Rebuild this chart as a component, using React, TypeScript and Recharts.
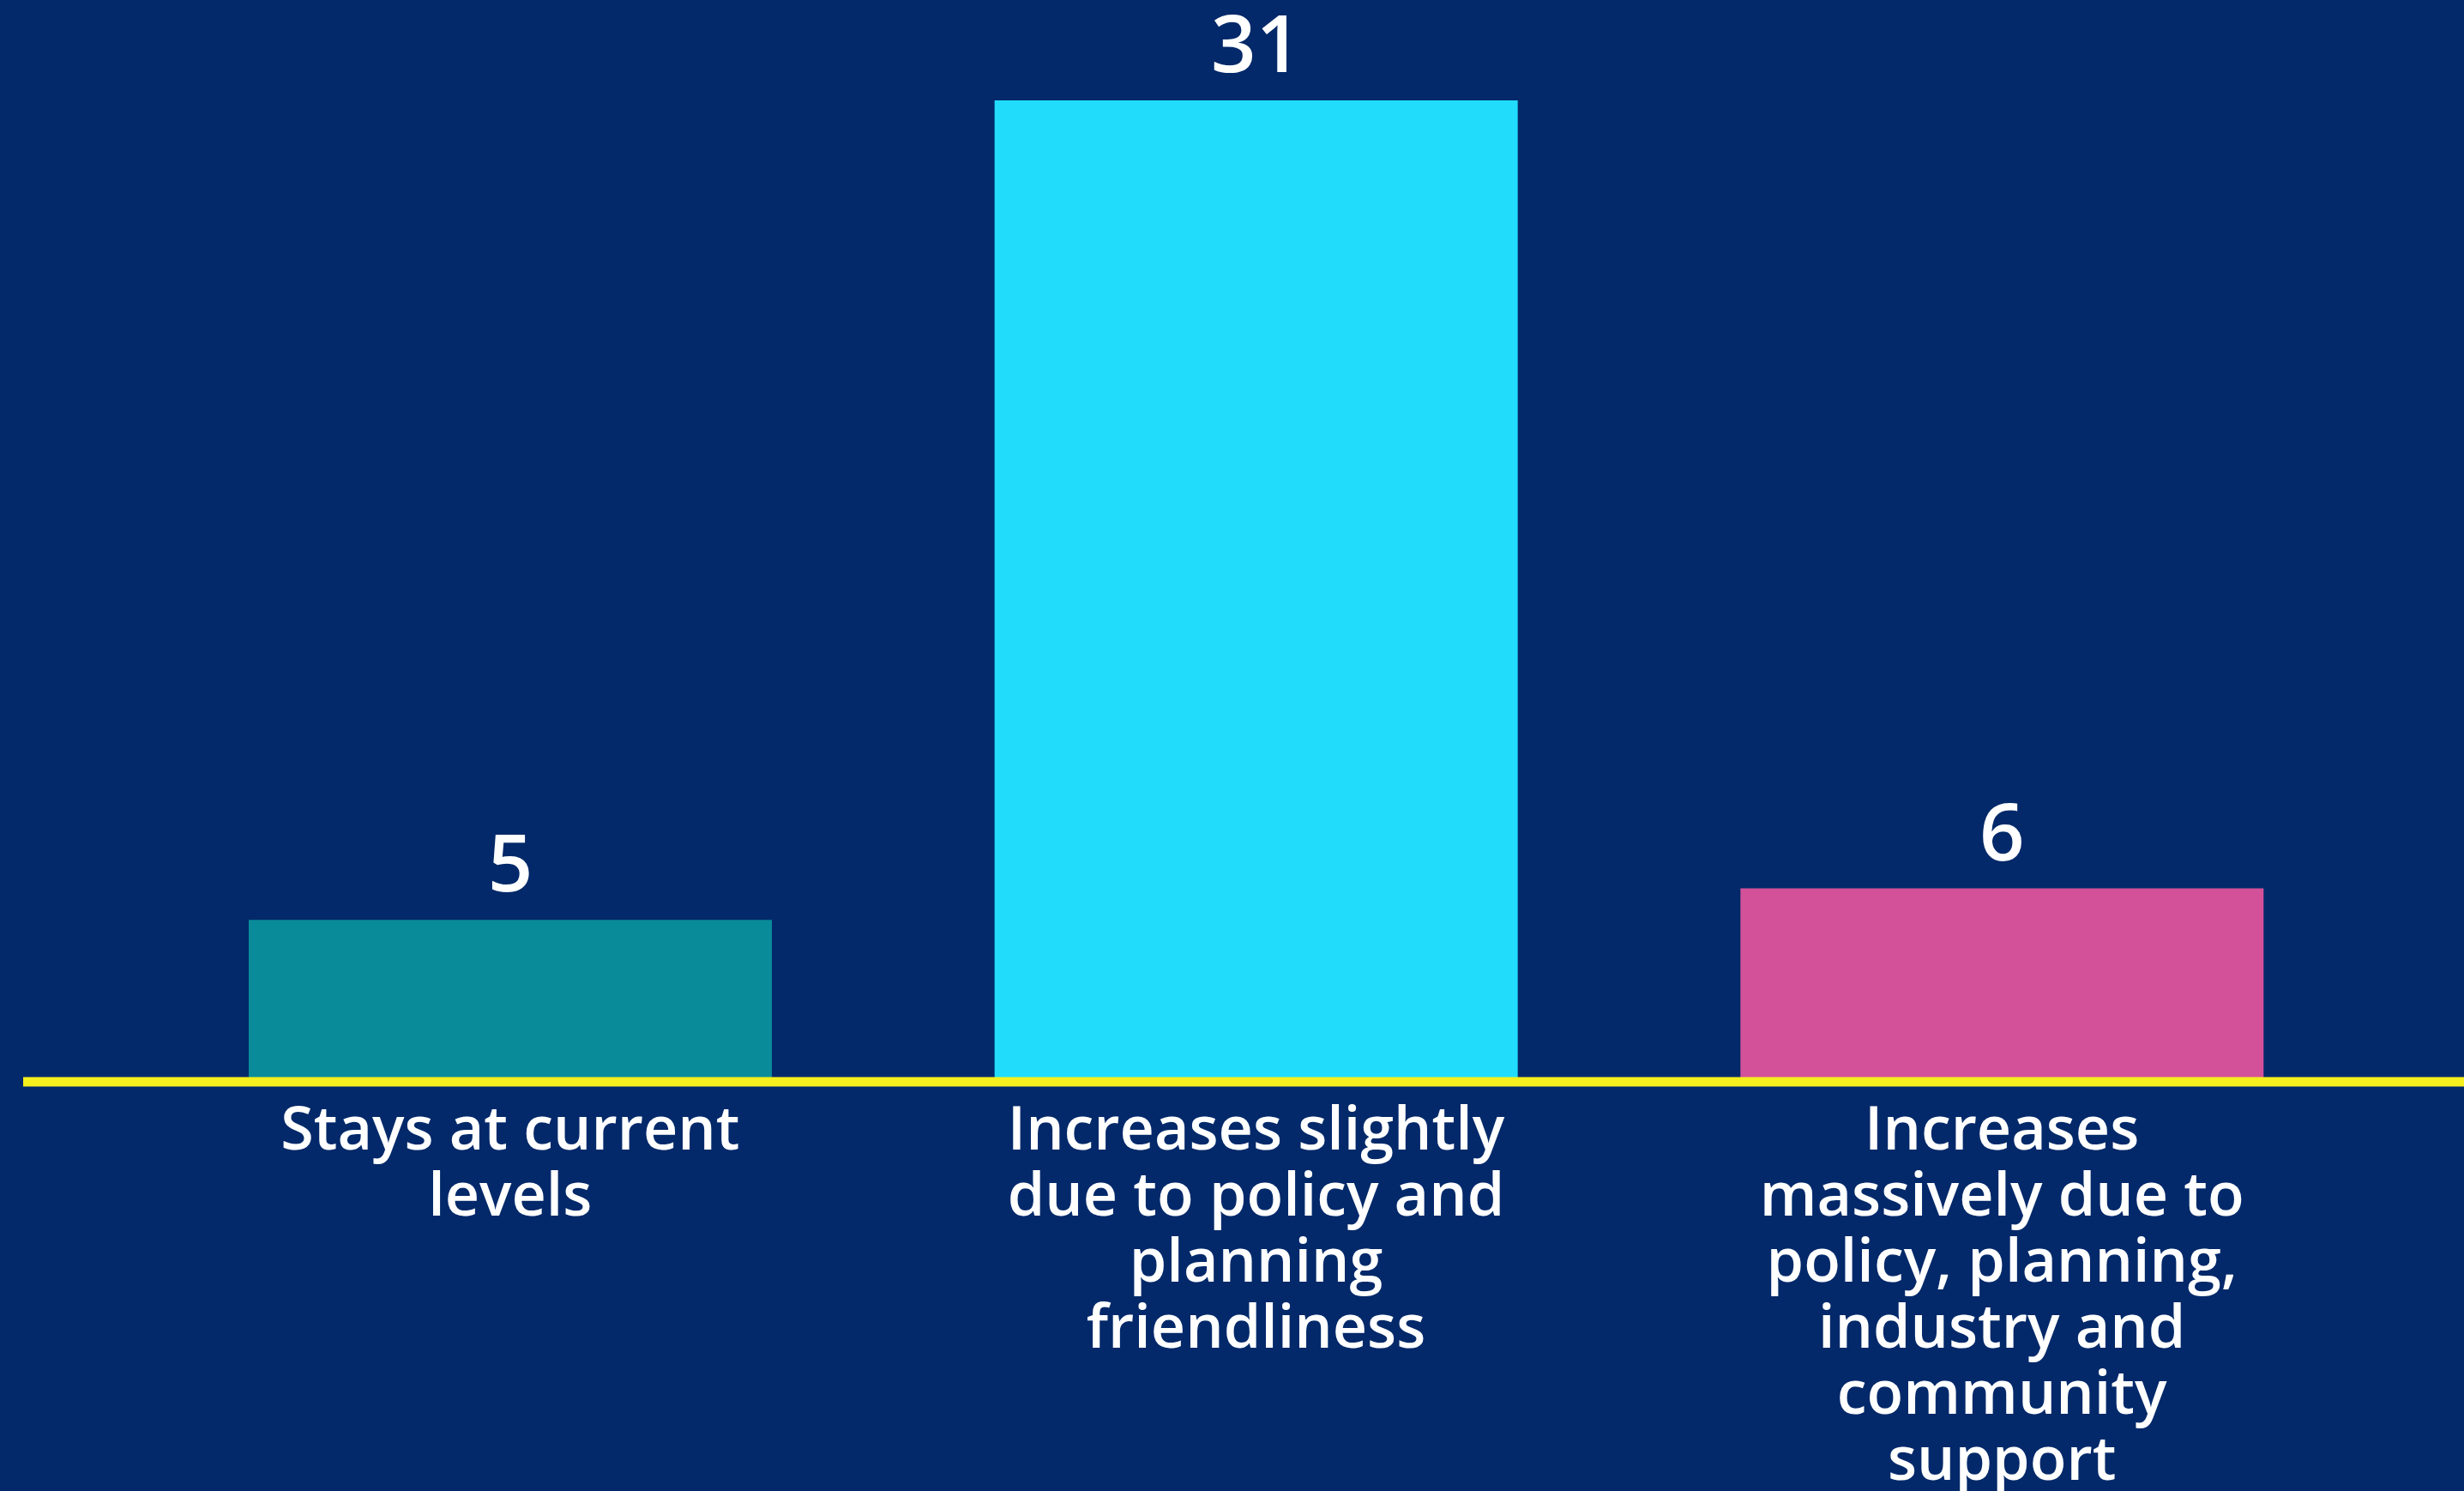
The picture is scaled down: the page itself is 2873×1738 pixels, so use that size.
import { BarChart, Bar, XAxis, YAxis, Cell, LabelList } from 'recharts';

// tick labels, with the line breaks the source uses
const categories = [
  'Stays at current\nlevels',
  'Increases slightly\ndue to policy and\nplanning\nfriendliness',
  'Increases\nmassively due to\npolicy, planning,\nindustry and\ncommunity\nsupport',
];
const responses = [5, 31, 6];
const barColors = ['#0A8B99', '#21DDFB', '#D35199'];

const data = categories.map((name, i) => ({ name, value: responses[i] }));

const FONT = '"Open Sans", Lato, sans-serif';

const WrappedTick = (props: any) => {
  const { x, y, payload } = props;
  const lines = String(payload.value).split('\n');
  return (
    <text
      x={x}
      y={y}
      textAnchor="middle"
      fill="#ffffff"
      style={{ fontFamily: FONT, fontSize: 70, fontWeight: 600 }}
    >
      {lines.map((line, i) => (
        <tspan key={i} x={x} dy={i === 0 ? 50 : 77}>
          {line}
        </tspan>
      ))}
    </text>
  );
};

const App = () => {
  return (
    <div style={{ position: 'absolute', left: 0, top: 0, width: 2873, height: 1738, background: '#03296A' }}>
      <BarChart
        width={2873}
        height={1738}
        data={data}
        margin={{ top: 117, right: 0, left: 27, bottom: 0 }}
      >
        <XAxis
          dataKey="name"
          height={482}
          interval={0}
          padding={{ left: 133, right: 104 }}
          tickLine={false}
          tickSize={6}
          tickMargin={28}
          axisLine={{ stroke: '#F5F01E', strokeWidth: 11, transform: 'translate(0,5)' }}
          tick={(props: any) => <WrappedTick {...props} />}
        />
        <YAxis hide domain={[0, 31]} />
        <Bar dataKey="value" barSize={610} isAnimationActive={false}>
          {data.map((_, i) => (
            <Cell key={i} fill={barColors[i]} />
          ))}
          <LabelList
            dataKey="value"
            position="top"
            offset={33}
            fill="#ffffff"
            fontSize={92}
            fontWeight={600}
            fontFamily={FONT}
          />
        </Bar>
      </BarChart>
    </div>
  );
};

export default App;
